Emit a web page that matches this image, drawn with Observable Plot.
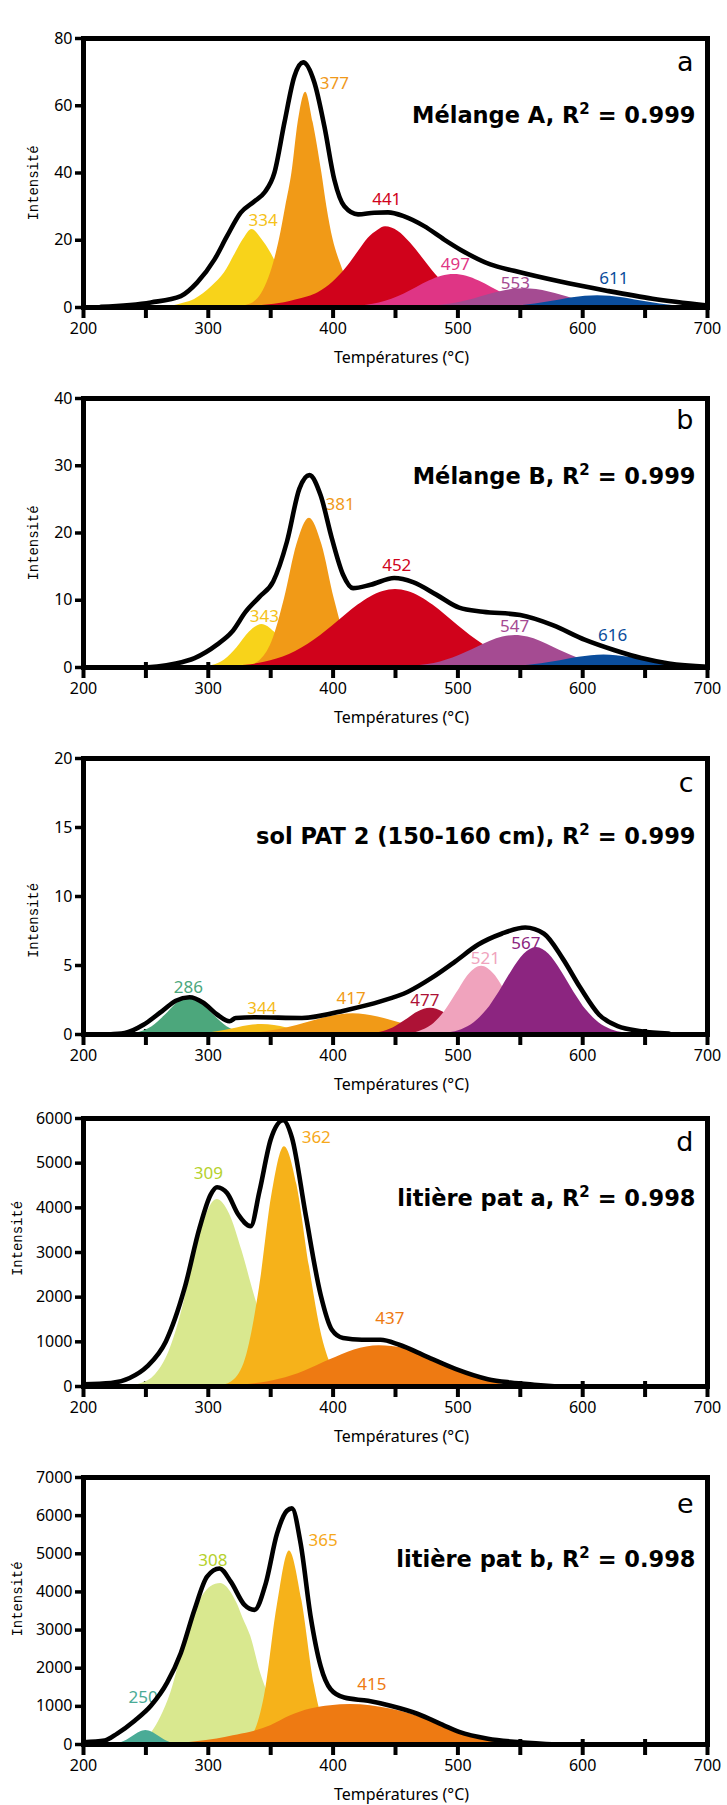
<!DOCTYPE html>
<html>
<head>
<meta charset="utf-8">
<script src="https://cdn.jsdelivr.net/npm/d3@7"></script>
<script src="https://cdn.jsdelivr.net/npm/@observablehq/plot@0.6"></script>
<style>
  html, body { margin: 0; padding: 0; background: #fff; }
  #chart { width: 727px; }
  #chart svg { display: block; }
</style>
</head>
<body>
<div id="chart"></div>
<script>
// ---------- shared axis values ----------
const xTicks = [200, 250, 300, 350, 400, 450, 500, 550, 600, 650, 700];

// ---------- panel a : Mélange A ----------
const aEnvT = [214, 254, 278, 291, 305, 315, 326, 337, 345, 353, 361, 369, 376, 385, 393, 401, 409, 420, 433, 444, 457, 473, 489, 502, 526, 545, 582, 619, 656, 700];
const aEnvV = [0.2, 1.5, 3.4, 7.4, 14.3, 21.2, 28.2, 31.6, 34.2, 40.1, 55, 68.8, 72.9, 66.9, 53.9, 38, 30.1, 27.7, 28.2, 28.3, 27.1, 24.2, 20.2, 17.2, 12.8, 10.9, 7.7, 5, 2.6, 0.6];
const a334T = [262, 270, 280, 289, 296, 303, 313, 322, 328, 335, 343, 350, 358, 368, 378, 388, 398];
const a334V = [0, 0.4, 1.3, 2.4, 4.1, 6.3, 10.3, 16.3, 20.2, 23.2, 20.2, 16.3, 10.5, 5.0, 1.8, 0.5, 0];
const a377T = [320, 330, 338, 344, 350, 357, 362, 367, 372, 378, 384, 391, 395, 400, 406, 412, 420, 430, 440];
const a377V = [0, 0.6, 2, 5, 10.3, 20.2, 30, 40, 55, 64, 55, 40, 30, 20.2, 13, 7.5, 3, 0.8, 0];
const a441T = [320, 330, 345, 361, 370, 380, 388, 400, 410, 420, 428, 436, 442, 452, 462, 472, 482, 492, 502, 512, 522, 532, 542, 552];
const a441V = [0, 0.3, 0.7, 1.4, 2.2, 3.2, 4.4, 7.6, 11.5, 16.5, 20.5, 23, 24, 22.7, 19.2, 14.6, 9.9, 6.0, 3.2, 1.6, 0.7, 0.26, 0.1, 0];
const a497T = [397, 407, 417, 427, 437, 447, 457, 467, 477, 487, 497, 507, 517, 527, 537, 547, 557, 567, 577, 587, 597];
const a497V = [0, 0.11, 0.28, 0.65, 1.32, 2.44, 4.03, 5.95, 7.85, 9.27, 9.8, 9.27, 7.85, 5.95, 4.03, 2.44, 1.32, 0.65, 0.28, 0.11, 0];
const a553T = [453, 463, 473, 483, 493, 503, 513, 523, 533, 543, 553, 563, 573, 583, 593, 603, 613, 623, 633, 643, 653];
const a553V = [0, 0.11, 0.25, 0.51, 0.96, 1.65, 2.56, 3.61, 4.61, 5.33, 5.6, 5.33, 4.61, 3.61, 2.56, 1.65, 0.96, 0.51, 0.25, 0.11, 0];
const a611T = [522, 532, 542, 552, 562, 572, 582, 592, 602, 612, 622, 632, 642, 652, 662, 672, 682, 692, 700];
const a611V = [0.07, 0.15, 0.32, 0.6, 1.03, 1.6, 2.25, 2.88, 3.33, 3.5, 3.33, 2.88, 2.25, 1.6, 1.03, 0.6, 0.32, 0.15, 0.08];
const aLabT = [344, 401, 443, 498, 546, 625];
const aLabV = [26, 66.6, 32, 12.7, 7.2, 8.5];
const aLabS = ["334", "377", "441", "497", "553", "611"];

// ---------- panel b : Mélange B ----------
const bEnvT = [200, 244, 274, 289, 307, 319, 330, 341, 352, 363, 373, 381, 390, 399, 408, 416, 430, 449, 464, 483, 501, 520, 550, 576, 602, 625, 647, 669, 700];
const bEnvV = [0, 0, 0.6, 1.4, 3.4, 5.3, 8.3, 10.5, 12.8, 18.7, 26.6, 28.6, 25.6, 19.2, 13.8, 11.8, 12.3, 13.3, 12.7, 10.8, 8.9, 8.3, 7.8, 6.3, 4.1, 2.6, 1.4, 0.6, 0.1];
const b343T = [283, 293, 303, 313, 323, 333, 343, 353, 363, 373, 383, 393, 403];
const b343V = [0, 0.05, 0.28, 1.10, 2.93, 5.27, 6.4, 5.27, 2.93, 1.10, 0.28, 0.05, 0];
const b381T = [321, 331, 341, 351, 361, 371, 381, 391, 401, 411, 421, 431, 441];
const b381V = [0, 0.17, 0.97, 3.82, 10.2, 18.3, 22.2, 18.3, 10.2, 3.82, 0.97, 0.17, 0];
const b452T = [300, 310, 320, 330, 340, 350, 360, 370, 380, 390, 400, 410, 420, 430, 440, 450, 460, 470, 480, 490, 500, 510, 520, 530, 540, 550, 560, 570, 580, 590, 600];
const b452V = [0, 0.09, 0.18, 0.34, 0.58, 0.99, 1.57, 2.39, 3.46, 4.77, 6.25, 7.82, 9.29, 10.5, 11.3, 11.6, 11.3, 10.5, 9.29, 7.82, 6.25, 4.77, 3.46, 2.39, 1.57, 0.99, 0.58, 0.34, 0.18, 0.09, 0];
const b547T = [446, 456, 466, 476, 486, 496, 506, 516, 526, 536, 546, 556, 566, 576, 586, 596, 606, 616, 626, 636, 646];
const b547V = [0.04, 0.09, 0.21, 0.43, 0.82, 1.40, 2.18, 3.06, 3.91, 4.52, 4.75, 4.52, 3.91, 3.06, 2.18, 1.40, 0.82, 0.43, 0.21, 0.09, 0.04];
const b616T = [537, 547, 557, 567, 577, 587, 597, 607, 617, 627, 637, 647, 657, 667, 677, 687, 697];
const b616V = [0.08, 0.17, 0.32, 0.55, 0.85, 1.19, 1.52, 1.76, 1.85, 1.76, 1.52, 1.19, 0.85, 0.55, 0.32, 0.17, 0.08];
const bLabT = [345, 405.6, 451, 545.5, 624];
const bLabV = [7.6, 24.2, 15.1, 6.1, 4.75];
const bLabS = ["343", "381", "452", "547", "616"];

// ---------- panel c : sol PAT 2 ----------
const cEnvT = [220, 233, 248, 263, 274, 285, 296, 307, 317, 322, 337, 375, 412, 438, 460, 479, 498, 516, 535, 554, 569, 584, 598, 613, 628, 647, 669];
const cEnvV = [0, 0.1, 0.7, 1.7, 2.45, 2.7, 2.3, 1.45, 0.96, 1.2, 1.25, 1.2, 1.8, 2.4, 3.1, 4.1, 5.3, 6.5, 7.3, 7.75, 7.3, 5.5, 3.4, 1.45, 0.6, 0.24, 0.07];
const c286T = [225, 235, 245, 255, 265, 275, 285, 295, 305, 315, 325, 335, 345];
const c286V = [0, 0.036, 0.17, 0.57, 1.35, 2.27, 2.7, 2.27, 1.35, 0.57, 0.17, 0.036, 0];
const c344T = [273, 283, 293, 303, 313, 323, 333, 343, 353, 363, 373, 383, 393, 403, 413];
const c344V = [0, 0.018, 0.055, 0.138, 0.284, 0.476, 0.65, 0.72, 0.65, 0.476, 0.284, 0.138, 0.055, 0.018, 0];
const c417T = [306, 316, 326, 336, 346, 356, 366, 376, 386, 396, 406, 416, 426, 436, 446, 456, 466, 476, 486, 496, 506, 516, 526];
const c417V = [0.011, 0.026, 0.055, 0.11, 0.2, 0.345, 0.54, 0.78, 1.04, 1.27, 1.44, 1.5, 1.44, 1.27, 1.04, 0.78, 0.54, 0.345, 0.2, 0.11, 0.055, 0.026, 0.011];
const c477T = [418, 428, 438, 448, 458, 468, 478, 488, 498, 508, 518, 528, 538];
const c477V = [0, 0.04, 0.16, 0.47, 1.03, 1.63, 1.9, 1.63, 1.03, 0.47, 0.16, 0.04, 0];
const c521T = [449, 459, 469, 479, 489, 499, 509, 519, 529, 539, 549, 559, 569, 579, 589];
const c521V = [0.01, 0.05, 0.22, 0.67, 1.61, 3.0, 4.37, 4.95, 4.37, 3.0, 1.61, 0.67, 0.22, 0.05, 0.01];
const c567T = [483, 493, 503, 513, 523, 533, 543, 553, 563, 573, 583, 593, 603, 613, 623, 633, 643];
const c567V = [0.04, 0.125, 0.35, 0.85, 1.75, 3.07, 4.57, 5.81, 6.3, 5.81, 4.57, 3.07, 1.75, 0.85, 0.35, 0.125, 0.04];
const cLabT = [284, 343, 414.5, 473.5, 522, 554.5];
const cLabV = [3.37, 1.9, 2.6, 2.45, 5.5, 6.6];
const cLabS = ["286", "344", "417", "477", "521", "567"];

// ---------- panel d : litière pat a ----------
const dEnvT = [200, 222, 237, 251, 266, 281, 293, 302, 307, 315, 324, 334, 341, 350, 360, 367, 378, 390, 399, 408, 423, 438, 453, 475, 498, 524, 542, 561, 580];
const dEnvV = [50, 75, 190, 450, 1010, 2200, 3550, 4300, 4460, 4330, 3850, 3590, 4370, 5530, 5960, 5570, 3850, 2055, 1270, 1085, 1045, 1045, 935, 670, 395, 165, 90, 40, 0];
const d309T = [227, 237, 247, 257, 267, 277, 287, 297, 307, 317, 327, 337, 347, 357, 367, 377, 387];
const d309V = [0, 16, 71, 247, 682, 1507, 2657, 3737, 4185, 3863, 3038, 2038, 1163, 565, 234, 83, 25];
const d362T = [301, 311, 321, 331, 341, 351, 361, 371, 381, 391, 401, 411, 421, 431];
const d362V = [0, 21, 154, 725, 2207, 4301, 5370, 4516, 2690, 1133, 337, 71, 11, 0];
const d437T = [307, 317, 327, 337, 347, 357, 367, 377, 387, 397, 407, 417, 427, 437, 447, 457, 467, 477, 487, 497, 507, 517, 527, 537, 547, 557];
const d437V = [0, 18, 35, 61, 102, 161, 242, 344, 463, 591, 713, 816, 886, 910, 895, 850, 760, 655, 545, 425, 300, 190, 105, 45, 12, 0];
const dLabT = [300, 386.5, 445.5];
const dLabV = [4760, 5580, 1530];
const dLabS = ["309", "362", "437"];

// ---------- panel e : litière pat b ----------
const eEnvT = [200, 217, 227, 241, 254, 267, 278, 289, 299, 309, 318, 329, 337, 346, 355, 363, 367, 374, 382, 390, 398, 409, 428, 446, 468, 489, 501, 524, 550, 580];
const eEnvV = [60, 104, 286, 625, 1015, 1620, 2400, 3540, 4400, 4615, 4270, 3660, 3530, 4220, 5520, 6130, 6190, 5265, 3355, 2055, 1450, 1230, 1145, 1015, 800, 495, 330, 150, 60, 0];
const e250T = [220, 225, 230, 235, 240, 245, 250, 255, 260, 265, 270, 275, 280];
const e250V = [4, 16, 49, 119, 222, 322, 365, 322, 222, 119, 49, 16, 4];
const e308T = [235, 245, 255, 262, 270, 281, 291, 302, 310, 318, 323, 328, 334, 342, 350, 360, 370, 380, 390];
const e308V = [20, 90, 330, 720, 1360, 2662, 3617, 4137, 4220, 4000, 3700, 3300, 2837, 1860, 1170, 570, 236, 84, 25];
const e365T = [315, 325, 335, 345, 355, 365, 375, 385, 395, 405, 415];
const e365V = [0, 20, 223, 1265, 3587, 5074, 3775, 1553, 354, 45, 0];
const e415T = [260, 273, 290, 307, 320, 334, 350, 366, 382, 398, 414, 430, 446, 462, 478, 494, 505, 524, 542, 560];
const e415V = [0, 17, 70, 147, 230, 321, 494, 754, 929, 1015, 1049, 1015, 929, 799, 624, 408, 278, 140, 50, 0];
const eLabT = [247.8, 303.7, 392, 431];
const eLabV = [1230, 4830, 5350, 1560];
const eLabS = ["250", "308", "365", "415"];

// ---------- colours ----------
const cYellow = "#f8d31a", cOrange = "#f19a17", cRed = "#d0021b", cPink = "#df3585", cPurple = "#a54b92", cBlue = "#0a4d9c";
const cGreen = "#4ca77c", cYellow2 = "#f6bd1a", cDarkRed = "#ad1236", cPink2 = "#f0a3bd", cPurple2 = "#8c2580";
const cLight = "#d9e88f", cGold = "#f6b21a", cOrange2 = "#ee7a12", cTeal = "#4aab96";

const panels = [
  {letter: "a", title: "Mélange A, R² = 0.999", ymax: 80, yticks: [0, 20, 40, 60, 80], h: 360, mt: 38, mb: 53,
   envT: aEnvT, envV: aEnvV,
   comps: [[a334T, a334V, cYellow], [a377T, a377V, cOrange], [a441T, a441V, cRed], [a497T, a497V, cPink], [a553T, a553V, cPurple], [a611T, a611V, cBlue]],
   labT: aLabT, labV: aLabV, labS: aLabS, labC: ["#f5c21a", "#f0991a", "#d0021b", "#df3585", "#a54b92", "#0a4d9c"],
   ylDx: -50, ylDy: 10, tDy: 77, lDy: 24},
  {letter: "b", title: "Mélange B, R² = 0.999", ymax: 40, yticks: [0, 10, 20, 30, 40], h: 360, mt: 38, mb: 53,
   envT: bEnvT, envV: bEnvV,
   comps: [[b343T, b343V, cYellow], [b381T, b381V, cOrange], [b452T, b452V, cRed], [b547T, b547V, cPurple], [b616T, b616V, cBlue]],
   labT: bLabT, labV: bLabV, labS: bLabS, labC: ["#f5c21a", "#f0991a", "#d0021b", "#a54b92", "#0a4d9c"],
   ylDx: -50, ylDy: 10, tDy: 78, lDy: 22},
  {letter: "c", title: "sol PAT 2 (150-160 cm), R² = 0.999", ymax: 20, yticks: [0, 5, 10, 15, 20], h: 360, mt: 38, mb: 46,
   envT: cEnvT, envV: cEnvV,
   comps: [[c286T, c286V, cGreen], [c344T, c344V, cYellow2], [c417T, c417V, cOrange], [c477T, c477V, cDarkRed], [c521T, c521V, cPink2], [c567T, c567V, cPurple2]],
   labT: cLabT, labV: cLabV, labS: cLabS, labC: ["#4ca77c", "#f5bb1a", "#f19a17", "#ad1236", "#f0a3bd", "#8c2580"],
   ylDx: -50, ylDy: 24, tDy: 78, lDy: 25},
  {letter: "d", title: "litière pat a, R² = 0.998", ymax: 6000, yticks: [0, 1000, 2000, 3000, 4000, 5000, 6000], h: 360, mt: 38, mb: 54,
   envT: dEnvT, envV: dEnvV,
   comps: [[d309T, d309V, cLight], [d362T, d362V, cGold], [d437T, d437V, cOrange2]],
   labT: dLabT, labV: dLabV, labS: dLabS, labC: ["#b5d12c", "#f6a81a", "#ee7a12"],
   ylDx: -66, ylDy: -14, tDy: 80, lDy: 24},
  {letter: "e", title: "litière pat b, R² = 0.998", ymax: 7000, yticks: [0, 1000, 2000, 3000, 4000, 5000, 6000, 7000], h: 365, mt: 37, mb: 61,
   envT: eEnvT, envV: eEnvV,
   comps: [[e308T, e308V, cLight], [e365T, e365V, cGold], [e415T, e415V, cOrange2], [e250T, e250V, cTeal]],
   labT: eLabT, labV: eLabV, labS: eLabS, labC: ["#4aab96", "#b5d12c", "#f6a81a", "#ee7a12"],
   ylDx: -66, ylDy: -12, tDy: 82, lDy: 27}
];

const rows = (T, V) => T.map((t, i) => ({t, v: V[i]}));

for (const p of panels) {
  const marks = [];
  // x ticks cross the axis line; drawn first so the fills hide their inner part
  marks.push(Plot.axisX({ticks: xTicks, tickSize: 16, tickPadding: 4, dy: -5, strokeWidth: 4, tickFormat: d => d % 100 ? "" : String(d), label: null}));
  for (const [T, V, col] of p.comps) {
    marks.push(Plot.areaY(rows(T, V), {x: "t", y: "v", fill: col, curve: "monotone-x"}));
  }
  p.labS.forEach((s, i) => {
    marks.push(Plot.text([s], {x: () => p.labT[i], y: () => p.labV[i], text: d => d, fill: p.labC[i], fontSize: 17, fontFamily: "Noto Sans"}));
  });
  marks.push(Plot.line(rows(p.envT, p.envV), {x: "t", y: "v", stroke: "black", strokeWidth: 4.6, curve: "monotone-x", strokeLinejoin: "round", strokeLinecap: "round"}));
  marks.push(Plot.frame({stroke: "black", strokeWidth: 5}));
  marks.push(Plot.axisY({ticks: p.yticks, tickSize: 8, tickPadding: 3, strokeWidth: 3.5, tickFormat: d => String(d), label: null}));
  marks.push(Plot.text(["Températures (°C)"], {text: d => d, frameAnchor: "bottom", lineAnchor: "middle", textAnchor: "middle", dy: 50, dx: 6, fontSize: 16, fontFamily: "Noto Sans"}));
  marks.push(Plot.text(["Intensité"], {text: d => d, frameAnchor: "left", lineAnchor: "middle", textAnchor: "middle", dx: p.ylDx, dy: p.ylDy, rotate: -90, fontSize: 14.5, fontFamily: "Liberation Mono"}));
  marks.push(Plot.text([p.letter], {text: d => d, frameAnchor: "top-right", lineAnchor: "middle", textAnchor: "end", dx: -14, dy: p.lDy, fontSize: 27, fontFamily: "DejaVu Sans"}));
  marks.push(Plot.text([p.title], {text: d => d, frameAnchor: "top-right", lineAnchor: "middle", textAnchor: "end", dx: -12, dy: p.tDy, fontSize: 22.5, fontWeight: "bold", fontFamily: "DejaVu Sans"}));

  const svg = Plot.plot({
    width: 727, height: p.h,
    marginLeft: 83, marginRight: 20, marginTop: p.mt, marginBottom: p.mb,
    x: {domain: [200, 700]},
    y: {domain: [0, p.ymax]},
    style: {fontFamily: "Noto Sans", fontSize: "16px", color: "black", background: "white", overflow: "visible"},
    marks
  });

  const ns = "http://www.w3.org/2000/svg";
  svg.querySelectorAll("text").forEach(t => {
    const s = t.textContent;
    // superscript "2" in R²
    if (s.includes("²")) {
      const [pre, post] = s.split("²");
      t.textContent = "";
      const t1 = document.createElementNS(ns, "tspan"); t1.textContent = pre;
      const t2 = document.createElementNS(ns, "tspan"); t2.textContent = "2";
      t2.setAttribute("dy", "-9"); t2.setAttribute("font-size", "15");
      const t3 = document.createElementNS(ns, "tspan"); t3.textContent = post;
      t3.setAttribute("dy", "9");
      t.append(t1, t2, t3);
    }
    // y-axis title spans the same length as in the reference
    if (s === "Intensité") {
      t.setAttribute("textLength", "75");
      t.setAttribute("lengthAdjust", "spacingAndGlyphs");
    }
  });
  document.getElementById("chart").appendChild(svg);
}
</script>
</body>
</html>
